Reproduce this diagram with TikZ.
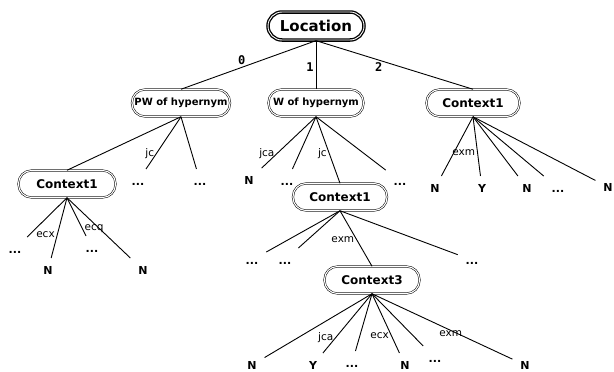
\documentclass[tikz,border=0pt]{standalone}
\usepackage{fontspec}
\setmainfont{DejaVu Sans}
\setmonofont{DejaVu Sans Mono}

\begin{document}
\begin{tikzpicture}[x=1pt,y=-1pt,line width=0.9pt,
box/.style={draw, rounded corners=13pt, double, double distance=1.1pt, line width=0.5pt, minimum width=95pt, minimum height=27pt, inner sep=0pt, font=\bfseries\fontsize{12}{12}\selectfont},
rootbox/.style={box, rounded corners=14pt, line width=1.3pt, double distance=0.9pt, minimum width=96pt, minimum height=28pt, font=\bfseries\fontsize{15}{15}\selectfont},
hyperbox/.style={box, minimum width=98pt, font=\bfseries\fontsize{10}{10}\selectfont},
leaf/.style={inner sep=0pt, outer sep=8pt, text height=8pt, text depth=0pt, font=\bfseries\fontsize{11}{11}\selectfont},
elab/.style={inner sep=2pt, font=\fontsize{10.5}{10.5}\selectfont},
num/.style={inner sep=2pt, font=\ttfamily\bfseries\fontsize{12}{12}\selectfont}]
\useasboundingbox (0,0) rectangle (614,372);

\node[rootbox] (loc) at (316,26) {Location};
\node[hyperbox] (pw) at (181,103) {PW of hypernym};
\node[hyperbox, minimum width=95pt] (vw) at (316,103) {W of hypernym};
\node[box, minimum width=93pt] (ctxR) at (473,103) {Context1};
\node[box, minimum width=97pt] (ctxL) at (67,184) {Context1};
\node[box, minimum width=94pt] (ctxM) at (340,197) {Context1};
\node[box] (ctxT) at (372,280) {Context3};

\node[leaf] (pwa) at (138,181) {...};
\node[leaf] (pwb) at (200,181) {...};
\node[leaf] (vwa) at (249,180) {N};
\node[leaf] (vwb) at (287,181) {...};
\node[leaf] (vwc) at (400,181) {...};
\node[leaf] (ra) at (435,188) {N};
\node[leaf] (rb) at (482,188) {Y};
\node[leaf] (rc) at (527,188) {N};
\node[leaf] (rd) at (558,188) {...};
\node[leaf] (re) at (608,187) {N};
\node[leaf] (la) at (15,249) {...};
\node[leaf] (lb) at (48,270) {N};
\node[leaf] (lc) at (92,248) {...};
\node[leaf] (ld) at (143,270) {N};
\node[leaf] (ma) at (252,260) {...};
\node[leaf] (mb) at (285,260) {...};
\node[leaf] (mc) at (472,260) {...};
\node[leaf] (ta) at (252,365) {N};
\node[leaf] (tb) at (313,365) {Y};
\node[leaf] (tc) at (352,363) {...};
\node[leaf] (td) at (405,365) {N};
\node[leaf] (te) at (435,358) {...};
\node[leaf] (tf) at (525,365) {N};

\draw (loc.south) -- node[num, pos=0.55, above] {0} (pw.north);
\draw (loc.south) -- node[num, pos=0.55, left] {1} (vw.north);
\draw (loc.south) -- node[num, pos=0.4, below] {2} (ctxR.north);

\draw (pw.south) -- (ctxL.north);
\draw (pw.south) -- node[elab, pos=0.7, left] {jc} (pwa);
\draw (pw.south) -- (pwb);

\draw (vw.south) -- node[elab, pos=0.72, left] {jca} (vwa);
\draw (vw.south) -- (vwb);
\draw (vw.south) -- node[elab, pos=0.55, left] {jc} (ctxM.north);
\draw (vw.south) -- (vwc);

\draw (ctxR.south) -- node[elab, pos=0.61, left] {exm} (rb);
\foreach \c in {ra,rc,rd,re} \draw (ctxR.south) -- (\c);

\draw (ctxL.south) -- node[elab, pos=0.62, left] {ecx} (lb);
\draw (ctxL.south) -- node[elab, pos=0.8, right] {ecq} (lc);
\foreach \c in {la,ld} \draw (ctxL.south) -- (\c);

\draw (ctxM.south) -- node[elab, pos=0.52, left] {exm} (ctxT.north);
\foreach \c in {ma,mb,mc} \draw (ctxM.south) -- (\c);

\draw (ctxT.south) -- node[elab, pos=0.74, left] {jca} (tb);
\draw (ctxT.south) -- node[elab, pos=0.7, left] {ecx} (td);
\draw (ctxT.south) -- node[elab, pos=0.56, below, inner sep=0pt] {exm} (tf);
\foreach \c in {ta,tc,te} \draw (ctxT.south) -- (\c);
\end{tikzpicture}
\end{document}
